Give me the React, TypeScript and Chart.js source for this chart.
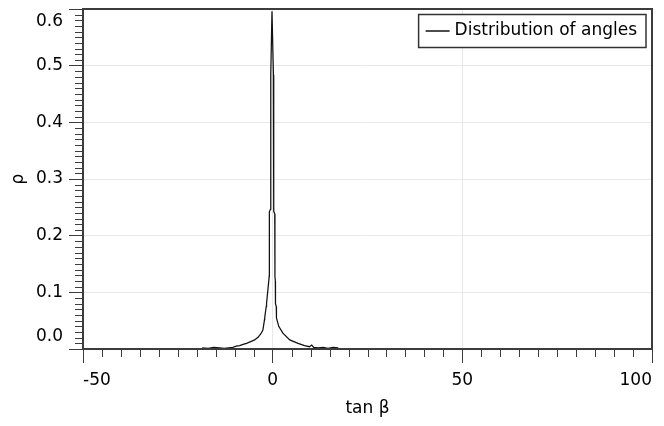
import React, { useEffect, useRef } from "react";
import { Chart, registerables } from "chart.js";

Chart.register(...registerables);

// ---- data ----
const seriesLabel = "Distribution of angles";
const tanBeta = [
  -18.6, -17.0, -15.5, -14.0, -12.8, -11.6, -10.5, -9.6, -8.7, -7.8, -6.9, -5.8,
  -4.75, -3.8, -3.1, -2.6, -2.5, -2.15, -2.1, -1.7, -1.62, -1.0, -0.93, -0.87,
  -0.55, -0.5, -0.18, 0.2, 0.26, 0.3, 0.55, 0.6, 0.7, 0.74, 0.95, 1.0, 1.6, 2.7,
  4.5, 6.7, 8.4, 9.7, 10.3, 10.8, 12.0, 13.3, 14.6, 15.9, 17.3,
];
const density = [
  0.002, 0.001, 0.003, 0.002, 0.001, 0.002, 0.003, 0.005, 0.006, 0.008, 0.01, 0.013,
  0.016, 0.021, 0.027, 0.033, 0.037, 0.052, 0.055, 0.075, 0.08, 0.122, 0.128, 0.242,
  0.247, 0.484, 0.596, 0.484, 0.47, 0.243, 0.238, 0.128, 0.12, 0.08, 0.075, 0.055, 0.04, 0.028,
  0.016, 0.01, 0.006, 0.004, 0.007, 0.003, 0.002, 0.003, 0.001, 0.003, 0.002,
];
const xTicks = [-50, 0, 50, 100];
const yTicks = [0, 0.1, 0.2, 0.3, 0.4, 0.5, 0.6];
const xMinorStep = 5;
const yMinorStep = 0.01;
const xTitle = "tan β";
const yTitle = "ρ";

// ---- style ----
const FONT = "'DejaVu Sans', Verdana, sans-serif";
const FONT_SIZE = 17;
const AXIS_COLOR = "#3c3c3c";
const GRID_COLOR = "#e8e8e8";
const TEXT_COLOR = "#000";

const decorPlugin = {
  id: "decor",
  afterDraw(chart: any) {
    const { ctx, chartArea: a, scales } = chart;
    const xs = scales.x;
    const ys = scales.y;
    ctx.save();
    // minor ticks
    ctx.strokeStyle = AXIS_COLOR;
    ctx.lineWidth = 1;
    ctx.beginPath();
    const yMin = yTicks[0];
    const yMax = yTicks[yTicks.length - 1];
    const yRatio = Math.round((yTicks[1] - yTicks[0]) / yMinorStep);
    const nY = Math.round((yMax - yMin) / yMinorStep);
    for (let i = 0; i <= nY; i++) {
      if (i % yRatio === 0) continue;
      const py = Math.round(ys.getPixelForValue(yMin + i * yMinorStep)) + 0.5;
      ctx.moveTo(a.left - 8, py);
      ctx.lineTo(a.left, py);
    }
    const xMin = xTicks[0];
    const xMax = xTicks[xTicks.length - 1];
    const xRatio = Math.round((xTicks[1] - xTicks[0]) / xMinorStep);
    const nX = Math.round((xMax - xMin) / xMinorStep);
    for (let i = 0; i <= nX; i++) {
      if (i % xRatio === 0) continue;
      const px = Math.round(xs.getPixelForValue(xMin + i * xMinorStep)) + 0.5;
      ctx.moveTo(px, a.bottom);
      ctx.lineTo(px, a.bottom + 8);
    }
    ctx.stroke();
    // plot border
    ctx.lineWidth = 2;
    ctx.strokeStyle = AXIS_COLOR;
    ctx.strokeRect(a.left, a.top, a.right - a.left, a.bottom - a.top);

    // legend box
    const ds = chart.data.datasets[0];
    ctx.font = `${FONT_SIZE}px ${FONT}`;
    const tw = ctx.measureText(ds.label).width;
    const h = 33;
    const w = 7 + 24 + 5 + tw + 9;
    const right = a.right - 6;
    const left = right - w;
    const top = a.top + 5.5;
    ctx.fillStyle = "#fff";
    ctx.fillRect(left, top, w, h);
    ctx.lineWidth = 1.5;
    ctx.strokeStyle = "#333";
    ctx.strokeRect(left, top, w, h);
    const cy = top + h / 2;
    ctx.strokeStyle = ds.borderColor;
    ctx.lineWidth = 1.5;
    ctx.beginPath();
    ctx.moveTo(left + 7, cy);
    ctx.lineTo(left + 31, cy);
    ctx.stroke();
    ctx.fillStyle = TEXT_COLOR;
    ctx.textAlign = "left";
    ctx.textBaseline = "middle";
    ctx.fillText(ds.label, left + 36, cy);
    ctx.restore();
  },
};

export default function App() {
  const ref = useRef<HTMLCanvasElement | null>(null);
  useEffect(() => {
    if (!ref.current) return;
    const points = tanBeta.map((x, i) => ({ x, y: density[i] }));
    const chart = new Chart(ref.current, {
      type: "line",
      data: {
        datasets: [
          {
            label: seriesLabel,
            data: points,
            borderColor: "#111",
            borderWidth: 1.25,
            pointRadius: 0,
            tension: 0,
            fill: false,
          },
        ],
      },
      options: {
        animation: false,
        responsive: false,
        events: [],
        layout: { padding: { top: 9, right: 12, left: 0, bottom: 0 } },
        plugins: {
          legend: { display: false },
          tooltip: { enabled: false },
        },
        scales: {
          x: {
            type: "linear",
            min: xTicks[0],
            max: xTicks[xTicks.length - 1],
            afterBuildTicks: (scale: any) => {
              scale.ticks = xTicks.map((v) => ({ value: v }));
            },
            afterFit: (scale: any) => {
              scale.height = 77;
              scale.paddingLeft = 0;
              scale.paddingRight = 0;
            },
            border: { display: false },
            grid: {
              color: GRID_COLOR,
              lineWidth: 1,
              drawTicks: true,
              tickLength: 14,
              tickColor: AXIS_COLOR,
              tickWidth: 1,
            },
            ticks: {
              align: "inner",
              maxRotation: 0,
              autoSkip: false,
              padding: 7,
              color: TEXT_COLOR,
              font: { family: FONT, size: FONT_SIZE, lineHeight: 1.2 },
              callback: (v: any) => String(v),
            },
            title: {
              display: true,
              text: xTitle,
              color: TEXT_COLOR,
              font: { family: FONT, size: FONT_SIZE, lineHeight: 1.2 },
              padding: { top: 0, bottom: 7 },
            },
          },
          y: {
            type: "linear",
            min: yTicks[0],
            max: yTicks[yTicks.length - 1],
            afterBuildTicks: (scale: any) => {
              scale.ticks = yTicks.map((v) => ({ value: v }));
            },
            afterFit: (scale: any) => {
              scale.width = 83;
              scale.paddingTop = 0;
              scale.paddingBottom = 0;
            },
            border: { display: false },
            grid: {
              color: GRID_COLOR,
              lineWidth: 1,
              drawTicks: true,
              tickLength: 14,
              tickColor: AXIS_COLOR,
              tickWidth: 1,
            },
            ticks: {
              autoSkip: false,
              padding: 6,
              color: TEXT_COLOR,
              font: { family: FONT, size: FONT_SIZE, lineHeight: 1.5 },
              callback: (v: any, i: number, ticks: any[]) => {
                const s = Number(v).toFixed(1);
                if (i === ticks.length - 1) return ["", s];
                if (i === 0) return [s, ""];
                return s;
              },
            },
            title: {
              display: true,
              text: yTitle,
              color: TEXT_COLOR,
              font: { family: FONT, size: FONT_SIZE, lineHeight: 1.2 },
              padding: { top: 8, bottom: 0 },
            },
          },
        },
      },
      plugins: [decorPlugin],
    } as any);
    return () => chart.destroy();
  }, []);
  return (
    <div style={{ position: "fixed", left: 0, top: 0, width: 664, height: 426, background: "#fff" }}>
      <canvas ref={ref} width={664} height={426} style={{ display: "block" }} />
    </div>
  );
}
